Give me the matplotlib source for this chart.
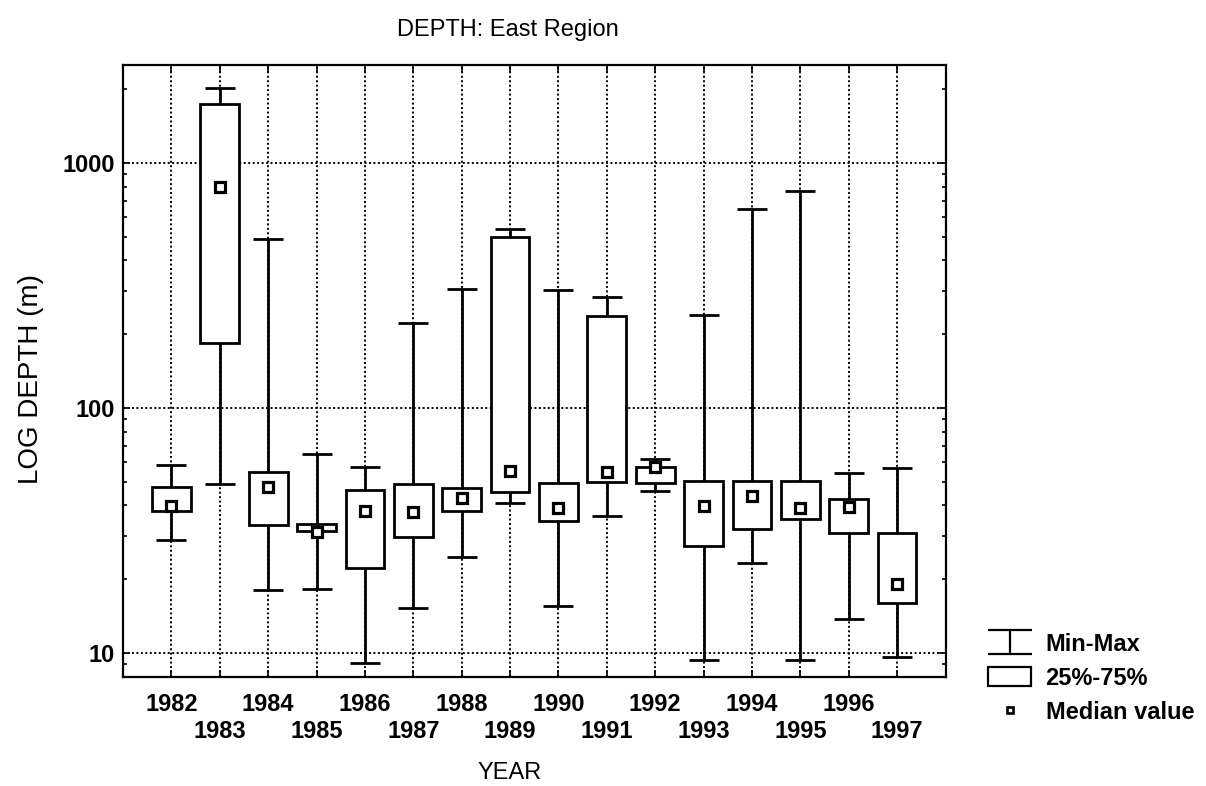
import numpy as np
import matplotlib.pyplot as plt
from matplotlib.patches import Patch
from matplotlib.lines import Line2D
from matplotlib.ticker import LogLocator, NullFormatter

plt.rcParams['font.family'] = ['Liberation Sans', 'DejaVu Sans']
plt.rcParams['font.size'] = 17

# values (depth in m)
years = list(range(1982, 1998))
d_min = [28.8, 48.8, 18.1, 18.2, 9.1, 15.3, 24.6, 41.1, 15.5, 36.2, 45.8, 9.4, 23.2, 9.4, 13.7, 9.6]
d_q25 = [37.8, 184, 33.3, 31.5, 22.3, 29.7, 38.0, 45.3, 34.4, 49.7, 49.6, 27.3, 32.0, 35.1, 31.0, 16.0]
d_med = [39.9, 800, 47.7, 31.1, 37.8, 37.5, 42.8, 55.3, 39.2, 55.0, 57.5, 39.9, 43.5, 39.0, 39.3, 19.2]
d_q75 = [47.6, 1740, 55.0, 33.5, 46.3, 48.8, 47.3, 500, 49.3, 238, 57.5, 50.4, 50.4, 50.4, 42.4, 30.8]
d_max = [58.3, 2020, 488, 64.7, 57.5, 223, 305, 538, 303, 284, 61.9, 240, 647, 769, 54.1, 56.7]

x_labels = [str(y) if y % 2 == 0 else '\n' + str(y) for y in years]

fig = plt.figure(figsize=(12.06, 7.86), dpi=100)
ax = fig.add_axes([0.102, 0.139, 0.682, 0.778])
ax.set_yscale('log')

# whiskers min-max
lo_err = np.subtract(d_med, d_min)
hi_err = np.subtract(d_max, d_med)
ax.errorbar(years, d_med, yerr=[lo_err, hi_err], fmt='none', ecolor='black',
            elinewidth=2.0, capsize=10.8, capthick=2.0, zorder=3)

# 25%-75% boxes
ax.bar(years, np.subtract(d_q75, d_q25), bottom=d_q25, width=0.8,
       facecolor='white', edgecolor='black', linewidth=2.0, zorder=4)

# medians
ax.plot(years, d_med, ls='none', marker='s', ms=6.6, mfc='white', mec='black', mew=2.3, zorder=5)

ax.set_xlim(1981, 1998)
ax.set_ylim(8, 2500)
ax.set_xticks(years)
ax.set_xticklabels(x_labels, fontweight='bold', linespacing=1.2)
ax.set_yticks([10, 100, 1000])
ax.set_yticklabels(['10', '100', '1000'], fontweight='bold')
ax.yaxis.set_minor_locator(LogLocator(base=10, subs=np.arange(2, 10)))
ax.yaxis.set_minor_formatter(NullFormatter())

ax.grid(True, which='major', color='black', linestyle=(0, (1, 1.3)), linewidth=1.4)
ax.set_axisbelow(True)
for s in ax.spines.values():
    s.set_linewidth(1.6)
ax.tick_params(which='both', direction='in', top=True, right=True, width=1.2)
ax.tick_params(which='major', length=5)
ax.tick_params(which='minor', length=3)
ax.tick_params(axis='x', pad=12)
ax.tick_params(axis='y', pad=6)

fig.text(508 / 1206, 1 - 30 / 786, 'DEPTH: East Region', ha='center', va='center')
fig.text(510 / 1206, 1 - 773 / 786, 'YEAR', ha='center', va='center')
fig.text(31 / 1206, 1 - 379 / 786, 'LOG DEPTH (m)', rotation=90, ha='center', va='center', fontsize=20)

# legend proxies
mm = ax.errorbar([np.nan], [np.nan], yerr=[[np.nan], [np.nan]], fmt='none', ecolor='black',
                 elinewidth=1.6, capsize=16, capthick=1.6)
box_proxy = Patch(facecolor='white', edgecolor='black', linewidth=1.6)
med_proxy = Line2D([], [], ls='none', marker='s', ms=5, mfc='white', mec='black', mew=1.9)
fig.legend([mm, box_proxy, med_proxy], ['Min-Max', '25%-75%', 'Median value'],
           loc='upper left', bbox_to_anchor=(0.819, 0.195), frameon=False,
           prop={'weight': 'bold', 'size': 17},
           handlelength=1.85, handleheight=0.85, handletextpad=0.6,
           labelspacing=0.47, borderpad=0, borderaxespad=0)

fig.savefig('out.png', dpi=100)
